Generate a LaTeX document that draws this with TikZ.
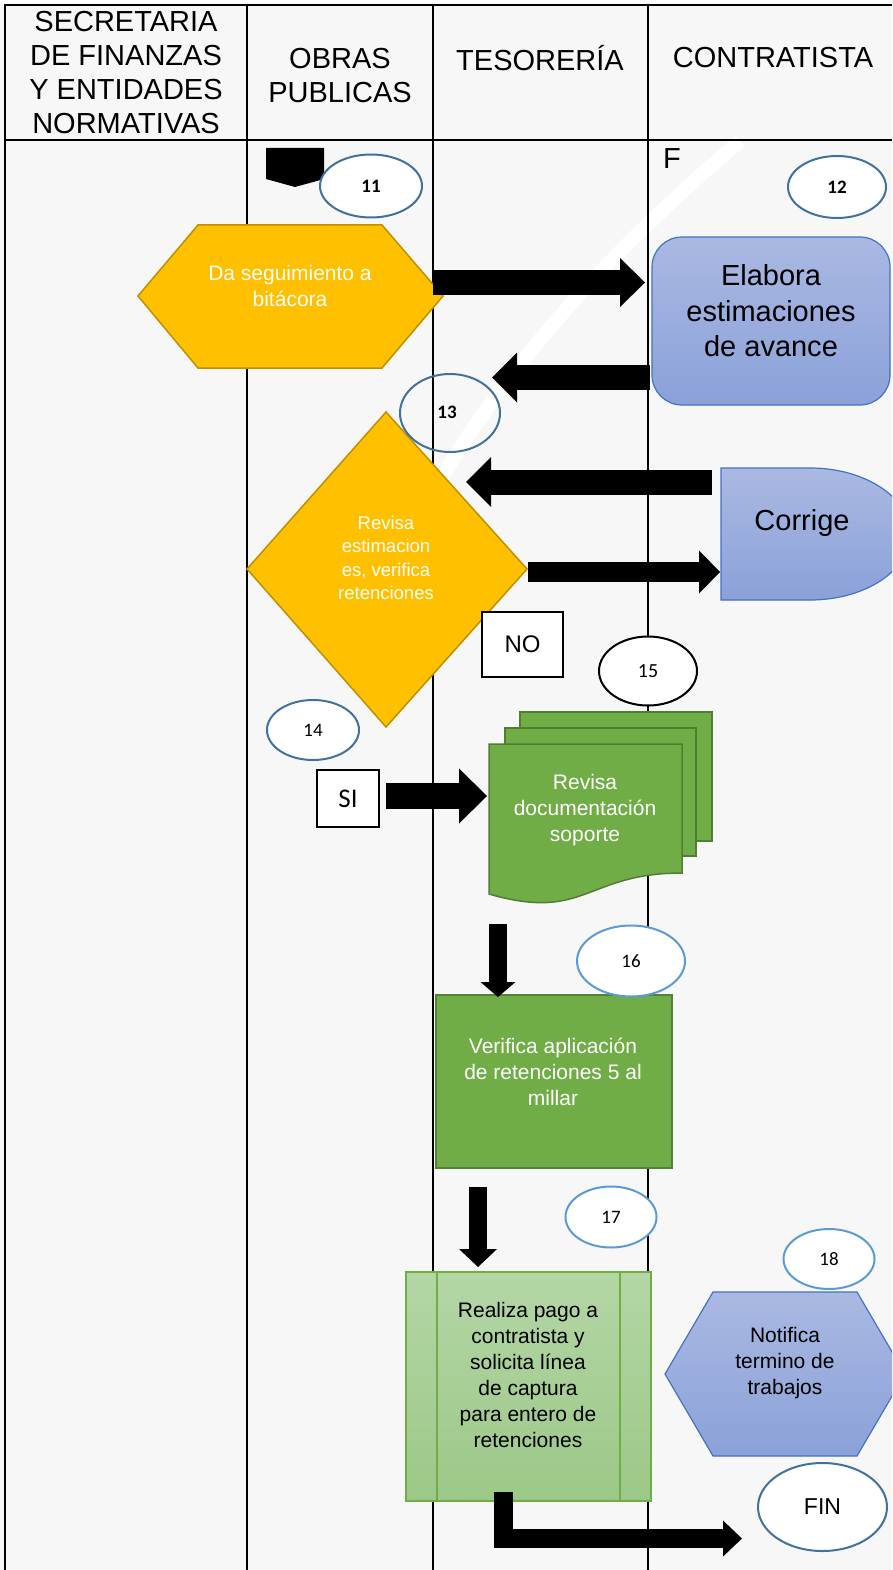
\documentclass[tikz,border=0pt]{standalone}
\usepackage{fontspec}
\setmainfont{Liberation Sans}
\newfontfamily\calib{Carlito}
\usetikzlibrary{arrows.meta,shapes.geometric}

\definecolor{gold}{HTML}{FFC000}
\definecolor{golddark}{HTML}{BF9000}
\definecolor{bluetop}{HTML}{AAB9E2}
\definecolor{bluebot}{HTML}{8AA1D9}
\definecolor{blueline}{HTML}{4472C4}
\definecolor{grn}{HTML}{70AD47}
\definecolor{grndark}{HTML}{507E32}
\definecolor{lgtop}{HTML}{B4D6A6}
\definecolor{lgbot}{HTML}{9CC887}
\definecolor{steel}{HTML}{41719C}
\definecolor{sky}{HTML}{5B9BD5}
\definecolor{paper}{HTML}{F7F7F7}

\tikzset{
  rule/.style={line width=2pt, black},
  hdr/.style={font=\fontsize{29}{34}\selectfont, align=center, inner sep=0pt},
  goldshape/.style={fill=gold, draw=golddark, line width=1.5pt, line join=miter},
  blueshape/.style={top color=bluetop, bottom color=bluebot, draw=blueline, line width=1.2pt},
  grnshape/.style={fill=grn, draw=grndark, line width=1.5pt},
  wtxt/.style={text=white, align=center, inner sep=0pt, font=\fontsize{21}{26}\selectfont},
  btxt/.style={text=black, align=center, inner sep=0pt, font=\fontsize{21}{26}\selectfont},
  numoval/.style={ellipse, draw=#1, line width=2pt, fill=white, inner sep=0pt,
    font=\calib\fontsize{19}{21}\selectfont},
  labelbox/.style={draw=black, line width=1.8pt, fill=white, inner sep=0pt},
  blockarrow/.style n args={3}{black, line width=#1, line cap=butt, line join=miter,
    -{Triangle[length=#2, width=#3, line width=0pt]}},
}

\begin{document}
\begin{tikzpicture}[x=1pt, y=-1pt]
\path[use as bounding box] (0,0) rectangle (892,1570);
\clip (0,0) rectangle (892,1570);
\fill[paper] (0,0) rectangle (892,1570);
\fill[white] (0,0) rectangle (892,5);
% faint watermark swoosh
\draw[white, line width=14pt] (740,141) .. controls (600,260) and (470,400) .. (400,560);

% table frame and lanes
\draw[rule] (5,1570) -- (5,5) -- (892,5);
\draw[rule] (5,140) -- (892,140);
\draw[rule] (247,5) -- (247,1570);
\draw[rule] (433,5) -- (433,1570);
\draw[rule] (648,5) -- (648,1570);

% lane headings
\node[hdr] (h1) at (126,73) {SECRETARIA\\DE FINANZAS\\Y ENTIDADES\\NORMATIVAS};
\node[hdr] (h2) at (340,76) {OBRAS\\PUBLICAS};
\node[hdr] (h3) at (540,58) {TESORERÍA};
\node[hdr] (h4) at (773,58) {CONTRATISTA};

% off-page connector and marker
\fill[black] (266,148) -- (324,148) -- (324,179) -- (295,187) -- (266,179) -- cycle;
\node[hdr, anchor=north west] (fmark) at (663,148) {F};

% step 11: follow-up of the log
\filldraw[goldshape] (138,296) -- (198,225) -- (382,225) -- (443,296) -- (382,368) -- (198,368) -- cycle;
\node[wtxt] (t11) at (290,286) {Da seguimiento a\\bitácora};

% step 12: progress estimates
\path[blueshape, rounded corners=30pt] (652,237) rectangle (890,405);
\node[btxt, font=\fontsize{29}{35.5}\selectfont] (t12) at (771,311) {Elabora\\estimaciones\\de avance};

% step 13: review decision
\filldraw[goldshape] (386,412) -- (527,569) -- (386,727) -- (247,569) -- cycle;
\node[wtxt, font=\fontsize{18.5}{23.5}\selectfont] (t13) at (386,558) {Revisa\\estimacion\\es, verifica\\retenciones};

% correction (delay shape)
\path[blueshape] (721,468) -- (810,468) .. controls (865.2,468) and (910,497.5) .. (910,534)
  .. controls (910,570.5) and (865.2,600) .. (810,600) -- (721,600) -- cycle;
\node[btxt, font=\fontsize{29}{34}\selectfont] (tcor) at (802,523) {Corrige};

% decision labels
\node[labelbox, minimum width=81pt, minimum height=65pt, font=\fontsize{24}{28}\selectfont] (no) at (522.5,644.5) {NO};
\node[labelbox, minimum width=62pt, minimum height=57pt, font=\calib\fontsize{27}{30}\selectfont] (si) at (348,798.5) {SI};

% step 15: supporting documents
\filldraw[grnshape] (520,712) rectangle (712,841);
\filldraw[grnshape] (505,728) rectangle (696,856);
\filldraw[grnshape] (489,744) -- (682,744) -- (682,873) .. controls (585.5,873) and (585.5,922) .. (489,894) -- cycle;
\node[wtxt] (t15) at (585,810) {Revisa\\documentación\\soporte};

% step 16: withholding check
\filldraw[grnshape, draw=grn!75!black] (436,995) rectangle (672,1168);
\node[wtxt] (t16) at (553,1072) {Verifica aplicación\\de retenciones 5 al\\millar};

% step 17: payment (predefined process)
\path[top color=lgtop, bottom color=lgbot, draw=grn, line width=1.5pt] (406,1272) rectangle (651,1501);
\draw[grn, line width=1.5pt] (437,1272) -- (437,1501) (620,1272) -- (620,1501);
\node[btxt] (t17) at (528,1375) {Realiza pago a\\contratista y\\solicita línea\\de captura\\para entero de\\retenciones};

% step 18: completion notice
\path[blueshape] (665,1374) -- (713,1292) -- (857,1292) -- (905,1374) -- (857,1456) -- (713,1456) -- cycle;
\node[btxt] (t18) at (785,1363) {Notifica\\termino de\\trabajos};

% step numbers
\node[numoval=steel, minimum width=102pt, minimum height=63pt] (n11) at (371,186) {\bfseries 11};
\node[numoval=steel, minimum width=98pt, minimum height=62pt] (n12) at (837,187) {\bfseries 12};
\node[numoval=steel, fill=none, minimum width=100pt, minimum height=78pt] (n13) at (450,413) {};
\node[font=\calib\bfseries\fontsize{19}{21}\selectfont, inner sep=0pt] (n13t) at (447,412) {13};
\node[numoval=steel, minimum width=92pt, minimum height=60pt] (n14) at (313,730) {14};
\node[numoval=black, minimum width=98pt, minimum height=69pt, font=\calib\fontsize{20}{22}\selectfont] (n15) at (648,671) {15};
\node[numoval=sky, minimum width=108pt, minimum height=71pt] (n16) at (631,961) {16};
\node[numoval=sky, minimum width=91pt, minimum height=61pt] (n17) at (611,1217) {17};
\node[numoval=sky, minimum width=91pt, minimum height=60pt] (n18) at (829,1259) {18};
\node[numoval=steel, minimum width=129pt, minimum height=88pt, font=\fontsize{23}{26}\selectfont] (fin) at (822.5,1507) {FIN};

% connector end points
\coordinate (a1s) at (433,282.5);  \coordinate (a1e) at (645,282.5);
\coordinate (a2s) at (650,377.5);  \coordinate (a2e) at (492,377.5);
\coordinate (a3s) at (712,482);    \coordinate (a3e) at (466,482);
\coordinate (a4s) at (528,572);    \coordinate (a4e) at (720,572);
\coordinate (a5s) at (386,796);    \coordinate (a5e) at (487,796);
\coordinate (a6s) at (498,924);    \coordinate (a6e) at (498,997);
\coordinate (a7s) at (478,1187);   \coordinate (a7e) at (478,1267);
\coordinate (a8s) at (503,1492);   \coordinate (a8e) at (742,1538.5);

% block arrows
\draw[blockarrow={25pt}{25pt}{49pt}] (a1s) -- (a1e);
\draw[blockarrow={25pt}{25pt}{50pt}] (a2s) -- (a2e);
\draw[blockarrow={25pt}{25pt}{50pt}] (a3s) -- (a3e);
\draw[blockarrow={20pt}{21pt}{43pt}] (a4s) -- (a4e);
\draw[blockarrow={26pt}{28pt}{55pt}] (a5s) -- (a5e);
\draw[blockarrow={18pt}{15pt}{35pt}] (a6s) -- (a6e);
\draw[blockarrow={18pt}{18pt}{38pt}] (a7s) -- (a7e);
\draw[blockarrow={19pt}{19pt}{36pt}] (a8s) |- (a8e);
\end{tikzpicture}
\end{document}
